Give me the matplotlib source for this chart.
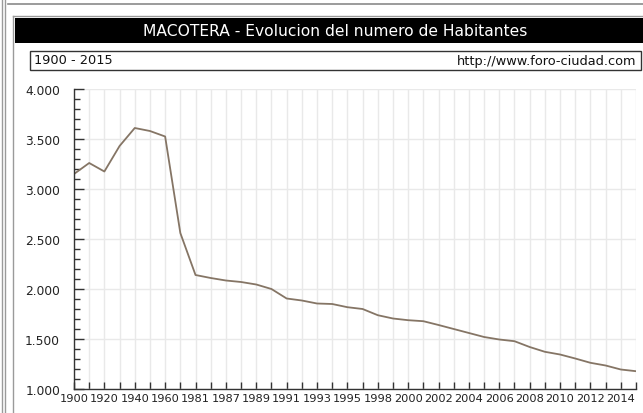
import matplotlib.pyplot as plt
from matplotlib.patches import Rectangle
from matplotlib.lines import Line2D

# Population data
years = ["1900", "1910", "1920", "1930", "1940", "1950", "1960", "1970", "1981",
         "1986", "1987", "1988", "1989", "1990", "1991", "1992", "1993", "1994",
         "1995", "1996", "1998", "1999", "2000", "2001", "2002", "2003", "2004",
         "2005", "2006", "2007", "2008", "2009", "2010", "2011", "2012", "2013",
         "2014", "2015"]
habitantes = [3150, 3260, 3175, 3430, 3610, 3580, 3525, 2560, 2140,
              2110, 2085, 2070, 2045, 2000, 1905, 1885, 1855, 1850,
              1818, 1800, 1738, 1705, 1688, 1678, 1640, 1600, 1560,
              1520, 1495, 1478, 1420, 1372, 1345, 1305, 1262, 1235,
              1195, 1178]
y_ticks = [1000, 1500, 2000, 2500, 3000, 3500, 4000]
y_labels = ["1.000", "1.500", "2.000", "2.500", "3.000", "3.500", "4.000"]

W, H = 643, 414
fig = plt.figure(figsize=(W / 100, H / 100), dpi=100)
fig.patch.set_facecolor("white")

def px(x, y):
    return x / W, 1 - y / H

# outer frame
for xx in (2, 5):
    fig.add_artist(Line2D([xx / W, xx / W], [0, 1], color="#9a9a9a", lw=1))
fig.add_artist(Line2D([8 / W, 1], [1 - 5 / H, 1 - 5 / H], color="#8a8a8a", lw=1.2))
fig.add_artist(Line2D([13 / W, 13 / W], [0, 1 - 17 / H], color="#9a9a9a", lw=1))
fig.add_artist(Line2D([13 / W, 1], [1 - 17 / H, 1 - 17 / H], color="#9a9a9a", lw=1))

# title bar
fig.add_artist(Rectangle(px(15, 44), (W - 15) / W, 25 / H, transform=fig.transFigure,
                         facecolor="black", edgecolor="none"))
fig.text(px(335, 32)[0], px(335, 32)[1], "MACOTERA - Evolucion del numero de Habitantes",
         color="white", fontsize=11.2, ha="center", va="center")

# subtitle box
fig.add_artist(Rectangle(px(30, 71), (641 - 30) / W, 19 / H, transform=fig.transFigure,
                         facecolor="white", edgecolor="#333333", lw=1))
fig.text(px(34, 61)[0], px(34, 61)[1], "1900 - 2015", fontsize=9.3, ha="left", va="center",
         color="#111111")
fig.text(px(636, 61)[0], px(636, 61)[1], "http://www.foro-ciudad.com", fontsize=9.3,
         ha="right", va="center", color="#111111")

# plot area
ax = fig.add_axes([74 / W, 24 / H, 562 / W, 300 / H])
x = list(range(len(years)))
ax.plot(x, habitantes, color="#857565", lw=1.3)

ax.set_xlim(0, len(years) - 1)
ax.set_ylim(1000, 4000)
ax.set_xticks(x)
ax.set_xticklabels([y if i % 2 == 0 else "" for i, y in enumerate(years)], fontsize=8.2,
                   color="#222222")
ax.set_yticks(y_ticks)
ax.set_yticklabels(y_labels, fontsize=8.8, color="#222222")
ax.set_yticks(range(1000, 4001, 100), minor=True)
ax.tick_params(axis="x", direction="in", length=5, width=1, color="#333333", pad=3)
ax.tick_params(axis="y", which="major", direction="in", length=7, width=1, color="#333333", pad=10)
ax.tick_params(axis="y", which="minor", direction="in", length=4, width=1, color="#333333")

ax.grid(True, which="major", color="#e9e9e9", lw=1)
ax.set_axisbelow(True)
for s in ("top", "right"):
    ax.spines[s].set_visible(False)
for s in ("left", "bottom"):
    ax.spines[s].set_color("#333333")
    ax.spines[s].set_linewidth(1)

fig.savefig("out.png", dpi=100)
